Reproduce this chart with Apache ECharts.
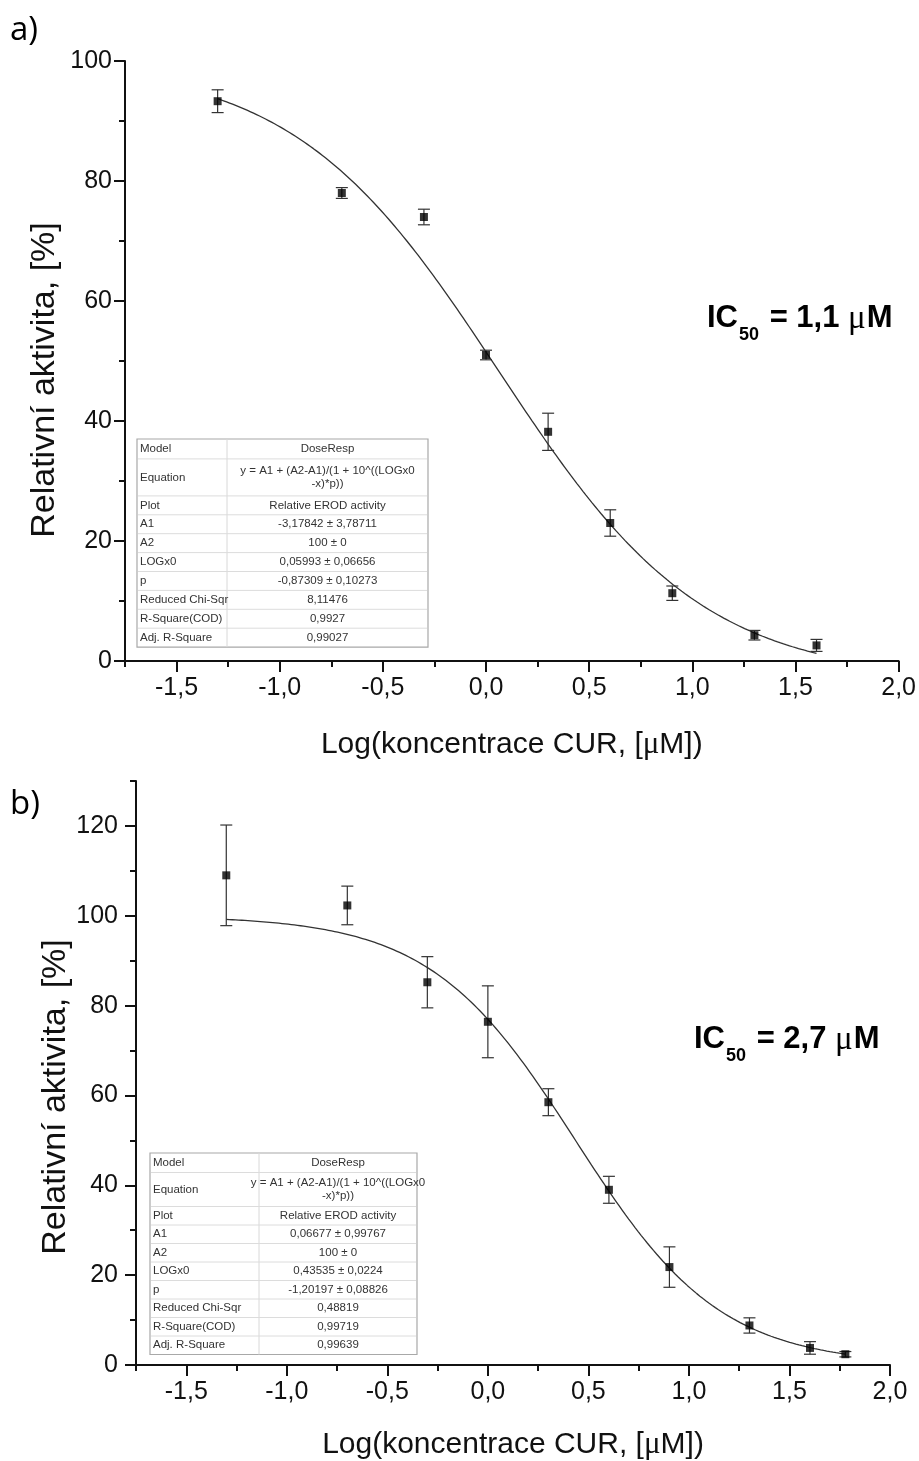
<!DOCTYPE html>
<html>
<head>
<meta charset="utf-8">
<script src="https://cdn.jsdelivr.net/npm/echarts@6/dist/echarts.min.js"></script>
<style>
  html, body { margin: 0; padding: 0; background: #fff; }
  #chart { width: 919px; height: 1461px; }
</style>
</head>
<body>
<div id="chart"></div>
<script>
// ---- panel a) measured EROD activity ----
const logConcA   = [-1.301, -0.699, -0.301, 0.000, 0.301, 0.602, 0.903, 1.301, 1.602];
const activityA  = [93.3, 78.0, 74.0, 51.0, 38.2, 23.0, 11.3, 4.3, 2.6];
const errorA     = [1.9, 0.9, 1.3, 0.8, 3.1, 2.2, 1.2, 0.8, 1.0];

// ---- panel b) measured EROD activity ----
const logConcB   = [-1.301, -0.699, -0.301, 0.000, 0.301, 0.602, 0.903, 1.301, 1.602, 1.778];
const activityB  = [109.0, 102.3, 85.2, 76.4, 58.5, 39.0, 21.8, 8.8, 3.8, 2.4];
const errorB     = [11.2, 4.3, 5.7, 8.0, 3.0, 3.0, 4.5, 1.7, 1.4, 0.6];

// DoseResp fit parameters: A1, A2, LOGx0, p
const fitParamsA = [-3.17842, 100, 0.05993, -0.87309];
const fitParamsB = [0.06677, 100, 0.43535, -1.20197];

// axis ticks
const xMajorTicks  = [-1.5, -1.0, -0.5, 0.0, 0.5, 1.0, 1.5, 2.0];
const xMinorTicks  = [-1.75, -1.25, -0.75, -0.25, 0.25, 0.75, 1.25, 1.75];
const yMajorTicksA = [0, 20, 40, 60, 80, 100];
const yMinorTicksA = [10, 30, 50, 70, 90];
const yMajorTicksB = [0, 20, 40, 60, 80, 100, 120];
const yMinorTicksB = [10, 30, 50, 70, 90, 110, 130];

// fit report tables
const tableLabels = ['Model', 'Equation', 'Plot', 'A1', 'A2', 'LOGx0', 'p',
                     'Reduced Chi-Sqr', 'R-Square(COD)', 'Adj. R-Square'];
const tableValuesA = ['DoseResp', 'y = A1 + (A2-A1)/(1 + 10^((LOGx0\n-x)*p))', 'Relative EROD activity',
                      '-3,17842 ± 3,78711', '100 ± 0', '0,05993 ± 0,06656', '-0,87309 ± 0,10273',
                      '8,11476', '0,9927', '0,99027'];
const tableValuesB = ['DoseResp', 'y = A1 + (A2-A1)/(1 + 10^((LOGx0\n-x)*p))', 'Relative EROD activity',
                      '0,06677 ± 0,99767', '100 ± 0', '0,43535 ± 0,0224', '-1,20197 ± 0,08826',
                      '0,48819', '0,99719', '0,99639'];

const panelLetters = ['a)', 'b)'];
const ic50Values = ['1,1', '2,7'];
const xAxisTitle = 'Log(koncentrace CUR, [{mu|μ}M])';
const yAxisTitle = 'Relativní aktivita, [%]';

// ---------------------------------------------------------------
const FONT = '"Liberation Sans", Arial, sans-serif';
const SERIF = '"Liberation Serif", "DejaVu Serif", serif';

function doseResp(params, x) {
  const [A1, A2, LOGx0, p] = params;
  return A1 + (A2 - A1) / (1 + Math.pow(10, (LOGx0 - x) * p));
}
function fitCurve(params, x0, x1) {
  const pts = [];
  const n = 200;
  for (let i = 0; i <= n; i++) {
    const x = x0 + (x1 - x0) * i / n;
    pts.push([x, doseResp(params, x)]);
  }
  return pts;
}
const commaFmt = v => v.toFixed(1).replace('-0.0', '0.0').replace('.', ',');

const grids = [
  { left: 125, top: 61, width: 774, height: 600 },
  { left: 136, top: 781, width: 754, height: 584 }
];

function xAxes(gi, nameGap) {
  return [{
    gridIndex: gi, type: 'value', min: -1.75, max: 2.0, position: 'bottom',
    axisLine: { show: true, onZero: false, lineStyle: { color: '#111', width: 2 } },
    axisTick: { show: true, inside: false, length: 11, lineStyle: { color: '#111', width: 2 }, customValues: xMajorTicks },
    axisLabel: { show: true, margin: 15, fontSize: 25, color: '#111', fontFamily: FONT,
                 customValues: xMajorTicks, formatter: commaFmt },
    splitLine: { show: false },
    name: xAxisTitle, nameLocation: 'middle', nameGap: nameGap,
    nameTextStyle: { fontSize: 30, color: '#111', fontFamily: FONT,
                     rich: { mu: { fontSize: 31, color: '#111', fontFamily: SERIF } } }
  }, {
    gridIndex: gi, type: 'value', min: -1.75, max: 2.0, position: 'bottom',
    axisLine: { show: false, onZero: false },
    axisTick: { show: true, inside: false, length: 6, lineStyle: { color: '#111', width: 2 }, customValues: xMinorTicks },
    axisLabel: { show: false },
    splitLine: { show: false }
  }];
}
function yAxes(gi, max, major, minor, margin) {
  return [{
    gridIndex: gi, type: 'value', min: 0, max: max, position: 'left',
    axisLine: { show: true, onZero: false, lineStyle: { color: '#111', width: 2 } },
    axisTick: { show: true, inside: false, length: 11, lineStyle: { color: '#111', width: 2 }, customValues: major },
    axisLabel: { show: true, margin: margin, fontSize: 25, color: '#111', fontFamily: FONT, customValues: major },
    splitLine: { show: false }
  }, {
    gridIndex: gi, type: 'value', min: 0, max: max, position: 'left',
    axisLine: { show: false, onZero: false },
    axisTick: { show: true, inside: false, length: 6, lineStyle: { color: '#111', width: 2 }, customValues: minor },
    axisLabel: { show: false },
    splitLine: { show: false }
  }];
}

// vertical axis title, rotated and centred on (cx, cy)
function yTitleGraphic(cx, cy) {
  return {
    type: 'text', x: cx, y: cy, rotation: Math.PI / 2, z: 12,
    style: { text: yAxisTitle, fontSize: 34, fill: '#111', fontFamily: FONT,
             textAlign: 'center', textVerticalAlign: 'middle' }
  };
}

function errorBarSeries(xi, yi, xs, ys, es) {
  return {
    type: 'custom', xAxisIndex: xi, yAxisIndex: yi, z: 3,
    data: xs.map((x, i) => [x, ys[i] - es[i], ys[i] + es[i]]),
    renderItem: (params, api) => {
      const lo = api.coord([api.value(0), api.value(1)]);
      const hi = api.coord([api.value(0), api.value(2)]);
      const cap = 6;
      const style = { stroke: '#333', lineWidth: 1.2 };
      return { type: 'group', children: [
        { type: 'line', shape: { x1: lo[0], y1: lo[1], x2: hi[0], y2: hi[1] }, style },
        { type: 'line', shape: { x1: lo[0] - cap, y1: lo[1], x2: lo[0] + cap, y2: lo[1] }, style },
        { type: 'line', shape: { x1: hi[0] - cap, y1: hi[1], x2: hi[0] + cap, y2: hi[1] }, style }
      ]};
    }
  };
}
function pointSeries(xi, yi, xs, ys) {
  return {
    type: 'scatter', xAxisIndex: xi, yAxisIndex: yi, z: 4,
    symbol: 'rect', symbolSize: 8, itemStyle: { color: '#000' },
    data: xs.map((x, i) => [x, ys[i]])
  };
}
function fitSeries(xi, yi, params, xs) {
  return {
    type: 'line', xAxisIndex: xi, yAxisIndex: yi, z: 2,
    showSymbol: false, symbol: 'none', silent: true,
    lineStyle: { color: '#333', width: 1.3 },
    data: fitCurve(params, xs[0], xs[xs.length - 1])
  };
}

// fit report table drawn as graphic elements
function tableGraphic(left, top, labelW, valueW, rowH, eqH, values, fontSize) {
  const els = [];
  const heights = tableLabels.map((_, i) => i === 1 ? eqH : (i === 0 ? rowH + 1 : rowH));
  const total = heights.reduce((a, b) => a + b, 0);
  const width = labelW + valueW;
  els.push({ type: 'rect', shape: { x: left, y: top, width: width, height: total },
             style: { fill: '#fff', stroke: '#a8a8a8', lineWidth: 1.2 }, z: 10 });
  els.push({ type: 'line', shape: { x1: left + labelW, y1: top, x2: left + labelW, y2: top + total },
             style: { stroke: '#d8d8d8', lineWidth: 1 }, z: 11 });
  let y = top;
  tableLabels.forEach((lab, i) => {
    const h = heights[i];
    if (i > 0) {
      els.push({ type: 'line', shape: { x1: left + 1, y1: y, x2: left + width - 1, y2: y },
                 style: { stroke: '#dcdcdc', lineWidth: 1 }, z: 11 });
    }
    els.push({ type: 'text', x: left + 3, y: y + h / 2, z: 12,
               style: { text: lab, fontSize: fontSize, fill: '#333', fontFamily: FONT,
                        textAlign: 'left', textVerticalAlign: 'middle' } });
    els.push({ type: 'text', x: left + labelW + valueW / 2, y: y + h / 2, z: 12,
               style: { text: values[i], fontSize: fontSize, fill: '#333', fontFamily: FONT,
                        textAlign: 'center', textVerticalAlign: 'middle', lineHeight: fontSize + 2 } });
    y += h;
  });
  return els;
}

function ic50Graphic(x, y, value) {
  return {
    type: 'text', x: x, y: y, z: 12,
    style: {
      text: '{m|IC}{s|50}{m| = ' + value + ' }{u|μ}{m|M}',
      textVerticalAlign: 'top',
      rich: {
        m: { fontSize: 31, fontWeight: 'bold', fill: '#000', fontFamily: FONT, verticalAlign: 'top', lineHeight: 35 },
        u: { fontSize: 33, fill: '#000', fontFamily: SERIF, verticalAlign: 'top', lineHeight: 35, padding: [0, 1, 0, 0] },
        s: { fontSize: 18, fontWeight: 'bold', fill: '#000', fontFamily: FONT, verticalAlign: 'top', lineHeight: 18,
             padding: [23, 2, 0, 1] }
      }
    }
  };
}

const chart = echarts.init(document.getElementById('chart'), null, { renderer: 'canvas' });
chart.setOption({
  backgroundColor: '#fff',
  animation: false,
  grid: grids,
  xAxis: [...xAxes(0, 68), ...xAxes(1, 64)],
  yAxis: [...yAxes(0, 100, yMajorTicksA, yMinorTicksA, 13), ...yAxes(1, 130, yMajorTicksB, yMinorTicksB, 18)],
  series: [
    fitSeries(0, 0, fitParamsA, logConcA),
    errorBarSeries(0, 0, logConcA, activityA, errorA),
    pointSeries(0, 0, logConcA, activityA),
    fitSeries(2, 2, fitParamsB, logConcB),
    errorBarSeries(2, 2, logConcB, activityB, errorB),
    pointSeries(2, 2, logConcB, activityB)
  ],
  graphic: [
    { type: 'text', x: 10, y: 14, style: { text: panelLetters[0], fontSize: 33, fill: '#000', fontFamily: '"Open Sans", sans-serif' } },
    { type: 'text', x: 10, y: 788, style: { text: panelLetters[1], fontSize: 33, fill: '#000', fontFamily: '"Open Sans", sans-serif' } },
    yTitleGraphic(45, 380),
    yTitleGraphic(56, 1097),
    ic50Graphic(707, 303, ic50Values[0]),
    ic50Graphic(694, 1024, ic50Values[1]),
    ...tableGraphic(137, 439, 90, 201, 18.9, 37, tableValuesA, 11.5),
    ...tableGraphic(150, 1153, 109, 158, 18.5, 34, tableValuesB, 11.5)
  ]
});
</script>
</body>
</html>
